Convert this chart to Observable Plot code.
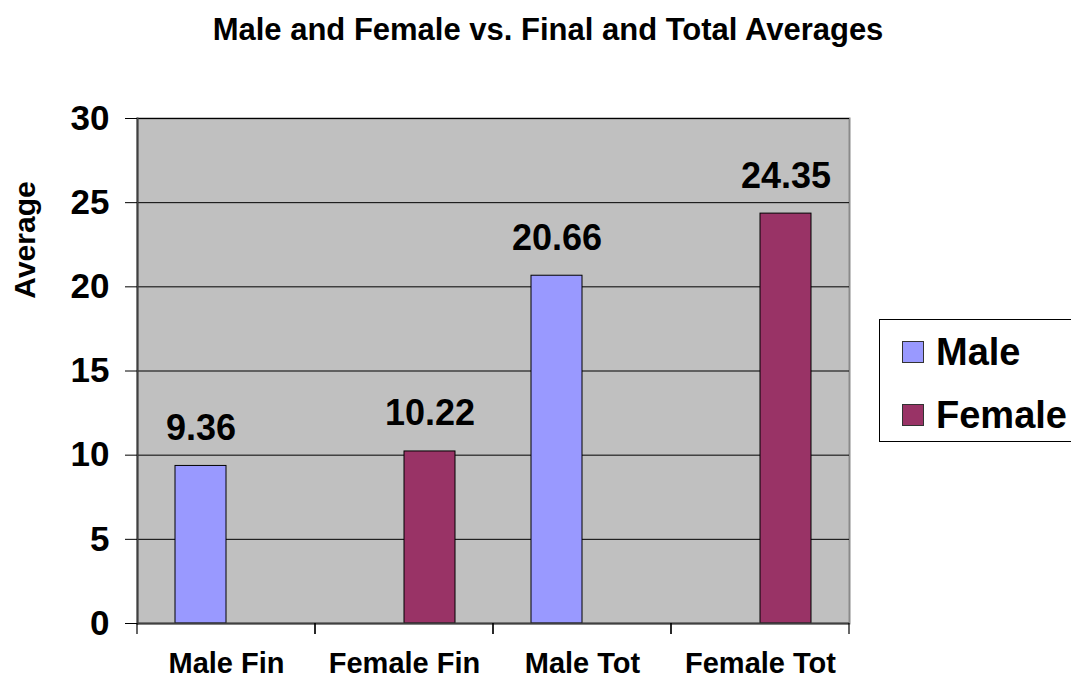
<!DOCTYPE html>
<html><head><meta charset="utf-8">
<script src="https://cdn.jsdelivr.net/npm/d3@7"></script>
<script src="https://cdn.jsdelivr.net/npm/@observablehq/plot@0.6"></script>
<style>
html,body{margin:0;padding:0;background:#fff;overflow:hidden;}
#wrap{position:relative;width:1071px;height:679px;font-family:'Liberation Sans',Arial,sans-serif;color:#000;}
#title{position:absolute;left:548px;top:14px;transform:translateX(-50%);font-size:31px;font-weight:bold;line-height:1;white-space:nowrap;}
#ylabel{position:absolute;left:25px;top:240px;transform:translate(-50%,-50%) rotate(-90deg);font-size:30px;font-weight:bold;line-height:1;white-space:nowrap;}
#legend{position:absolute;left:879px;top:319px;width:220px;height:123px;border:1px solid #000;background:#fff;box-sizing:border-box;}
.item{position:absolute;left:22px;display:flex;align-items:center;font-size:38px;font-weight:bold;line-height:1;white-space:nowrap;}
.sw{width:20px;height:20px;border:1px solid #333;margin-right:12px;}
#chart{position:absolute;left:0;top:0;}
</style>
</head>
<body>
<div id="wrap">
  <div id="chart"></div>
  <div id="title"></div>
  <div id="ylabel"></div>
  <div id="legend"></div>
</div>
<script>
const categories = ["Male Fin", "Female Fin", "Male Tot", "Female Tot"];
const series = ["Male", "Female"];
const barSeries = ["Male", "Female", "Male", "Female"];
const values = [9.36, 10.22, 20.66, 24.35];
const seriesColors = ["#9999FF", "#993366"];
const yTicks = [0, 5, 10, 15, 20, 25, 30];
const titleText = "Male and Female vs. Final and Total Averages";
const yLabelText = "Average";

const rows = categories.map((c, i) => ({category: c, series: barSeries[i], value: values[i]}));

document.getElementById("title").textContent = titleText;
document.getElementById("ylabel").textContent = yLabelText;

const legend = document.getElementById("legend");
const legendTops = [13, 76];
series.forEach((s, i) => {
  const item = document.createElement("div");
  item.className = "item";
  item.style.top = legendTops[i] + "px";
  const sw = document.createElement("div");
  sw.className = "sw";
  sw.style.background = seriesColors[i];
  const t = document.createElement("span");
  t.textContent = s;
  item.appendChild(sw);
  item.appendChild(t);
  legend.appendChild(item);
});

// small ticks under the category axis at the category boundaries
const boundaryTicks = (index, scales, vals, dims) => {
  const g = d3.create("svg:g").attr("stroke", "#000").attr("stroke-width", 1.2);
  const yb = dims.height - dims.marginBottom;
  for (const x of [dims.marginLeft, dims.width - dims.marginRight]) {
    g.append("line").attr("x1", x).attr("x2", x).attr("y1", yb).attr("y2", yb + 11);
  }
  return g.node();
};

const chart = Plot.plot({
  width: 1071, height: 679,
  marginTop: 118, marginLeft: 137, marginRight: 222, marginBottom: 56,
  style: {fontFamily: "'Liberation Sans', Arial, sans-serif", background: "transparent", color: "#000", overflow: "visible"},
  fx: {domain: categories, padding: 0, label: null},
  x: {domain: series, paddingInner: 0, paddingOuter: 38 / 51, axis: null},
  y: {domain: [0, 30], axis: null},
  color: {domain: series, range: seriesColors},
  marks: [
    Plot.frame({facet: "super", fill: "#c0c0c0", stroke: "#8a8a8a", strokeWidth: 2}),
    Plot.ruleY(yTicks.filter(t => t > 0), {stroke: "#000", strokeWidth: 1}),
    Plot.barY(rows, {fx: "category", x: "series", y: "value", fill: "series", stroke: "#000", strokeWidth: 1}),
    Plot.text(rows, {fx: "category", x: "series", y: "value", text: d => d.value.toFixed(2), lineAnchor: "bottom", dy: -26, fontSize: 36, fontWeight: "bold", fill: "#000"}),
    Plot.frame({facet: "super", anchor: "left", stroke: "#404040", strokeWidth: 2}),
    Plot.ruleY([0], {stroke: "#404040", strokeWidth: 2}),
    boundaryTicks,
    Plot.axisY({ticks: yTicks, tickSize: 12, tickPadding: 16, fontSize: 35, fontWeight: "bold", label: null, tickFormat: d => d}),
    Plot.axisFx({anchor: "bottom", tickSize: 0, tickPadding: 29, fontSize: 29, fontWeight: "bold", label: null})
  ]
});
document.getElementById("chart").appendChild(chart);
</script>
</body></html>
